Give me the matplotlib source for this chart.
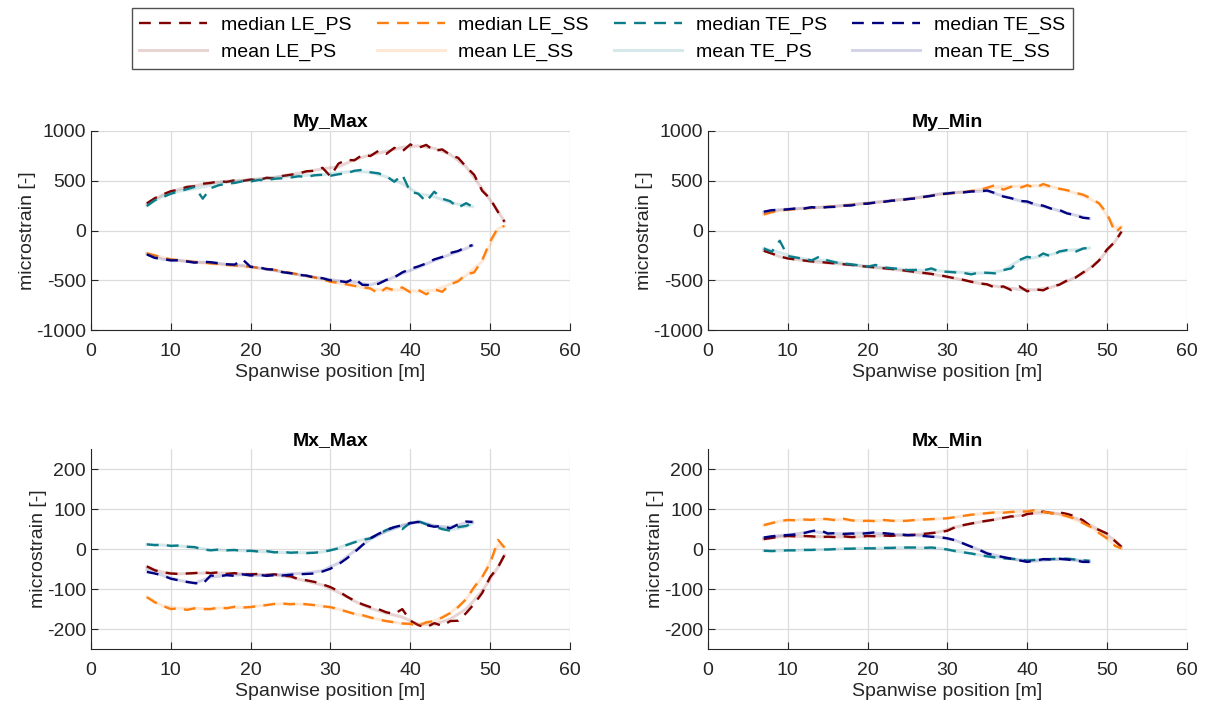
import numpy as np
import matplotlib.pyplot as plt

plt.rcParams['font.family'] = ['Liberation Sans', 'DejaVu Sans']
plt.rcParams['axes.unicode_minus'] = False

# Spanwise positions of the sensors [m]
x_le = np.r_[np.arange(7, 52), 51.8]
x_te = np.r_[np.arange(7, 48), 47.8]
x_le_mean = np.r_[np.arange(7, 52, 2), 51.8]
x_te_mean = np.r_[np.arange(7, 48, 2), 47.8]

sensors = ['LE_PS', 'LE_SS', 'TE_PS', 'TE_SS']
panel_titles = ['My_Max', 'My_Min', 'Mx_Max', 'Mx_Min']

# ---- My_Max ----
my_max_le_ps_median = [273, 325, 362, 395, 410, 438, 445, 470, 478, 495, 488, 505, 498, 512, 505, 530,
                       522, 548, 560, 572, 595, 600, 630, 545, 672, 710, 705, 760, 748, 800, 770, 830,
                       795, 865, 830, 860, 800, 815, 760, 730, 640, 560, 400, 320, 185, 89]
my_max_le_ss_median = [-229, -250, -270, -290, -298, -305, -315, -320, -330, -335, -345, -350, -358, -363,
                       -375, -385, -395, -410, -425, -440, -455, -470, -490, -514, -525, -540, -555, -570,
                       -581, -632, -575, -600, -570, -620, -595, -640, -590, -615, -540, -510, -440, -420,
                       -300, -110, 30, 45]
my_max_te_ps_median = [246, 305, 335, 370, 392, 415, 438, 320, 425, 455, 470, 478, 495, 492, 508, 505,
                       520, 525, 532, 545, 538, 555, 560, 550, 565, 575, 600, 610, 585, 575, 545, 490,
                       560, 390, 370, 290, 390, 320, 295, 230, 275, 240]
my_max_te_ss_median = [-240, -275, -285, -300, -298, -310, -322, -312, -318, -328, -338, -342, -290, -365,
                       -368, -388, -392, -418, -428, -445, -452, -472, -478, -500, -505, -518, -480, -545,
                       -548, -535, -495, -470, -420, -385, -360, -330, -290, -265, -225, -205, -165, -146]
my_max_le_ps_mean = [270, 360, 415, 450, 478, 495, 505, 518, 535, 562, 590, 620, 640, 712, 760, 795,
                     835, 850, 825, 765, 640, 420, 195, 90]
my_max_le_ss_mean = [-225, -272, -300, -318, -332, -348, -360, -378, -398, -428, -458, -492, -528, -556,
                     -585, -600, -595, -610, -600, -540, -450, -310, 20, 45]
my_max_te_ps_mean = [250, 345, 395, 420, 455, 485, 500, 515, 530, 545, 555, 560, 580, 595, 585, 540,
                     470, 370, 340, 280, 250, 240]
my_max_te_ss_mean = [-235, -290, -300, -318, -320, -340, -350, -375, -400, -430, -455, -480, -505, -520,
                     -545, -500, -430, -370, -300, -240, -180, -150]

# ---- My_Min ----
my_min_le_ps_median = [-203, -230, -260, -280, -290, -300, -310, -315, -323, -330, -338, -345, -355, -363,
                       -370, -378, -385, -395, -405, -415, -425, -435, -447, -464, -480, -495, -514, -530,
                       -540, -575, -560, -598, -560, -610, -590, -600, -560, -545, -500, -475, -420, -375,
                       -300, -190, -112, -12]
my_min_le_ss_median = [162, 185, 200, 210, 215, 222, 228, 232, 238, 242, 250, 258, 265, 273, 280, 290,
                       298, 308, 315, 325, 335, 350, 362, 370, 378, 385, 398, 407, 430, 457, 410, 440,
                       425, 455, 430, 467, 440, 420, 405, 380, 360, 323, 273, 173, -20, 35]
my_min_te_ps_median = [-179, -213, -102, -256, -270, -285, -300, -260, -300, -320, -330, -340, -350, -363,
                       -345, -370, -378, -385, -397, -395, -400, -380, -410, -414, -420, -425, -440, -420,
                       -424, -430, -397, -380, -296, -263, -280, -230, -260, -210, -196, -215, -180, -173]
my_min_te_ss_median = [189, 205, 208, 213, 222, 220, 235, 228, 236, 238, 250, 252, 268, 270, 282, 288,
                       300, 303, 316, 322, 338, 348, 365, 372, 382, 383, 392, 393, 402, 375, 342, 325,
                       298, 292, 262, 250, 220, 208, 172, 155, 128, 122]
my_min_le_ps_mean = [-200, -262, -290, -312, -325, -340, -355, -372, -388, -408, -428, -450, -480, -515,
                     -545, -570, -590, -595, -570, -510, -430, -300, -110, -15]
my_min_le_ss_mean = [160, 200, 215, 228, 238, 250, 265, 280, 298, 315, 335, 362, 378, 398, 430, 440,
                     445, 450, 440, 400, 350, 270, 30, 40]
my_min_te_ps_mean = [-180, -220, -270, -295, -300, -330, -350, -365, -378, -395, -398, -405, -415, -425,
                     -428, -400, -300, -270, -240, -200, -185, -175]
my_min_te_ss_mean = [185, 210, 220, 230, 236, 252, 268, 285, 302, 318, 340, 368, 382, 392, 398, 345,
                     300, 262, 222, 175, 135, 120]

# ---- Mx_Max ----
mx_max_le_ps_median = [-43, -53, -58, -61, -62, -61, -60, -58, -60, -58, -62, -60, -63, -63, -62, -65,
                       -63, -66, -68, -75, -78, -82, -88, -95, -105, -118, -129, -138, -145, -150, -158,
                       -162, -150, -179, -190, -196, -185, -192, -180, -179, -160, -137, -110, -70, -45, -15]
mx_max_le_ss_median = [-120, -133, -142, -150, -148, -152, -148, -150, -150, -146, -148, -144, -146, -145,
                       -142, -140, -137, -136, -138, -136, -138, -140, -143, -145, -150, -156, -162, -165,
                       -171, -176, -180, -183, -186, -187, -192, -183, -180, -171, -160, -145, -125, -95,
                       -70, -36, 23, 4]
mx_max_te_ps_median = [12, 10, 11, 8, 9, 6, 5, -1, -3, -1, -3, -2, -5, -4, -6, -5, -8, -7, -9, -8, -10,
                       -9, -7, -3, 2, 10, 17, 23, 27, 37, 48, 55, 50, 66, 70, 62, 56, 50, 46, 55, 58, 65]
mx_max_te_ss_median = [-57, -61, -66, -74, -78, -82, -85, -87, -66, -68, -65, -67, -63, -66, -64, -67,
                       -65, -66, -64, -63, -62, -61, -56, -49, -38, -24, -8, 10, 27, 38, 48, 55, 60, 65,
                       68, 60, 56, 58, 52, 62, 69, 68]
mx_max_le_ps_mean = [-45, -58, -62, -60, -60, -60, -62, -63, -65, -70, -80, -90, -108, -130, -148, -160,
                     -170, -188, -188, -175, -150, -105, -45, -15]
mx_max_le_ss_mean = [-120, -142, -148, -148, -149, -146, -146, -142, -137, -137, -138, -143, -150, -162,
                     -171, -180, -186, -188, -180, -160, -125, -70, 10, 5]
mx_max_te_ps_mean = [12, 10, 8, 4, -2, -3, -4, -6, -8, -9, -9, -7, 3, 18, 28, 45, 58, 70, 58, 48, 56, 65]
mx_max_te_ss_mean = [-52, -66, -78, -85, -70, -66, -64, -66, -64, -62, -60, -54, -35, -5, 25, 45, 60, 68,
                     58, 55, 66, 68]

# ---- Mx_Min ----
mx_min_le_ps_median = [25, 28, 31, 33, 32, 33, 32, 30, 31, 30, 32, 30, 31, 33, 32, 34, 33, 35, 35, 36, 38,
                       40, 42, 46, 55, 60, 64, 68, 71, 74, 78, 82, 80, 88, 90, 94, 90, 92, 88, 82, 72, 56,
                       48, 39, 20, 6]
mx_min_le_ss_median = [60, 65, 70, 73, 72, 74, 73, 76, 75, 72, 76, 72, 70, 71, 70, 73, 71, 70, 71, 73, 74,
                       75, 76, 77, 80, 83, 86, 88, 90, 92, 91, 93, 94, 94, 98, 93, 90, 88, 82, 76, 65, 55,
                       40, 27, 8, 2]
mx_min_te_ps_median = [-4, -5, -4, -3, -3, -2, -2, -1, -1, 0, 1, 1, 2, 2, 2, 3, 3, 4, 4, 4, 3, 4, 2, -1,
                       -5, -8, -11, -15, -18, -21, -23, -24, -26, -29, -27, -25, -25, -24, -24, -26, -28, -29]
mx_min_te_ss_median = [29, 32, 34, 35, 37, 40, 45, 48, 39, 40, 38, 39, 38, 40, 42, 40, 38, 37, 35, 35, 33,
                       31, 30, 27, 22, 14, 6, -2, -11, -16, -20, -24, -28, -32, -29, -25, -26, -24, -26,
                       -28, -32, -32]
mx_min_le_ps_mean = [25, 31, 32, 31, 31, 31, 31, 33, 34, 35, 38, 43, 55, 64, 71, 78, 84, 90, 91, 86, 70,
                     48, 22, 6]
mx_min_le_ss_mean = [60, 70, 73, 74, 75, 73, 71, 71, 71, 71, 74, 76, 80, 86, 90, 92, 94, 96, 90, 82, 65,
                     42, 10, 2]
mx_min_te_ps_mean = [-4, -4, -3, -2, -1, 1, 2, 2, 3, 4, 3, 2, -5, -11, -18, -23, -26, -27, -25, -24, -28, -29]
mx_min_te_ss_mean = [28, 34, 38, 44, 40, 38, 40, 40, 37, 35, 33, 30, 22, 6, -10, -20, -28, -30, -26, -26,
                     -30, -32]

medians = [
    [my_max_le_ps_median, my_max_le_ss_median, my_max_te_ps_median, my_max_te_ss_median],
    [my_min_le_ps_median, my_min_le_ss_median, my_min_te_ps_median, my_min_te_ss_median],
    [mx_max_le_ps_median, mx_max_le_ss_median, mx_max_te_ps_median, mx_max_te_ss_median],
    [mx_min_le_ps_median, mx_min_le_ss_median, mx_min_te_ps_median, mx_min_te_ss_median],
]
means = [
    [my_max_le_ps_mean, my_max_le_ss_mean, my_max_te_ps_mean, my_max_te_ss_mean],
    [my_min_le_ps_mean, my_min_le_ss_mean, my_min_te_ps_mean, my_min_te_ss_mean],
    [mx_max_le_ps_mean, mx_max_le_ss_mean, mx_max_te_ps_mean, mx_max_te_ss_mean],
    [mx_min_le_ps_mean, mx_min_le_ss_mean, mx_min_te_ps_mean, mx_min_te_ss_mean],
]

colors = ['#800000', '#ff7f0e', '#0b7d8a', '#000080']


def main():
    fig = plt.figure(figsize=(12.08, 7.04), dpi=100)

    # axes boxes in figure fractions (left, bottom, width, height)
    boxes = [(0.0753, 0.531, 0.3965, 0.283), (0.586, 0.531, 0.3965, 0.283),
             (0.0753, 0.078, 0.3965, 0.284), (0.586, 0.078, 0.3965, 0.284)]

    handles = []
    for p, title in enumerate(panel_titles):
        ax = fig.add_axes(boxes[p])
        panel_handles = []
        for s, name in enumerate(sensors):
            if name.startswith('LE'):
                xm, xa = x_le, x_le_mean
            else:
                xm, xa = x_te, x_te_mean
            hm, = ax.plot(xm, medians[p][s], color=colors[s], lw=1.7,
                          linestyle=(0, (5, 3.5)), label='median ' + name)
            ha, = ax.plot(xa, means[p][s], color=colors[s], lw=2.2, alpha=0.17,
                          label='mean ' + name)
            panel_handles += [hm, ha]
        if p == 0:
            handles = panel_handles

        ax.set_xlim(0, 60)
        ax.set_xticks(range(0, 61, 10))
        if p < 2:
            ax.set_ylim(-1000, 1000)
            ax.set_yticks(range(-1000, 1001, 500))
        else:
            ax.set_ylim(-250, 250)
            ax.set_yticks(range(-200, 201, 100))

        ax.set_title(title, fontsize=14, fontweight='bold', pad=3)
        ax.set_xlabel('Spanwise position [m]', fontsize=14, color='#262626', labelpad=3)
        ax.set_ylabel('microstrain [-]', fontsize=14, color='#262626', labelpad=0)

        # MATLAB-like look: grid, no top/right box
        ax.grid(True, color='#dcdcdc', lw=0.9)
        ax.set_axisbelow(True)
        for spine in ['top', 'right']:
            ax.spines[spine].set_visible(False)
        for spine in ['bottom', 'left']:
            ax.spines[spine].set_color('#262626')
        ax.tick_params(direction='in', length=5, labelsize=14, colors='#262626')
        ax.tick_params(axis='x', pad=9)

    leg = fig.legend(handles, [h.get_label() for h in handles], ncol=4,
                     loc='center', bbox_to_anchor=(0.4985, 0.945), fontsize=14,
                     frameon=True, fancybox=False, handlelength=3.5, handletextpad=0.7,
                     columnspacing=1.3, labelspacing=0.5, borderpad=0.4)
    leg.get_frame().set_edgecolor('#262626')
    leg.get_frame().set_linewidth(1.0)

    fig.savefig('out.png', dpi=100)


if __name__ == "__main__":
    main()
